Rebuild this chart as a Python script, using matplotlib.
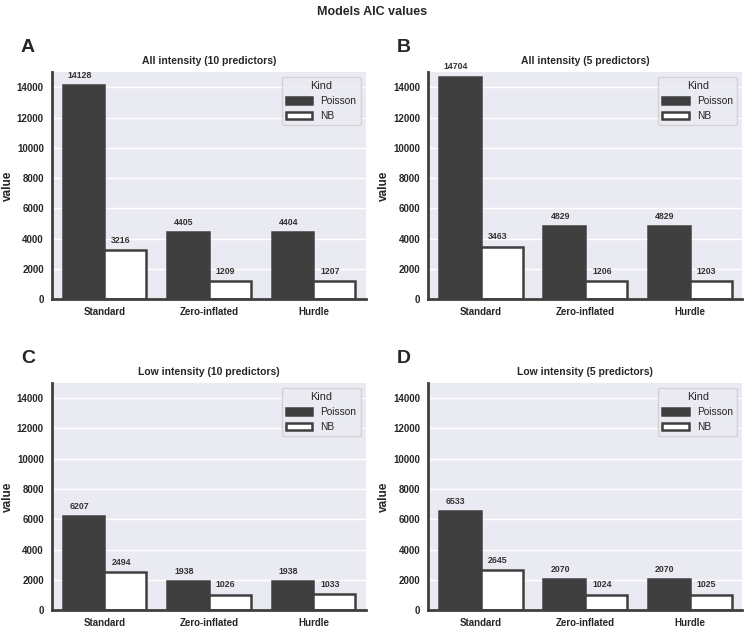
import matplotlib
matplotlib.use("Agg")
import matplotlib.pyplot as plt
import seaborn as sns
import numpy as np

models = ["Standard", "Zero-inflated", "Hurdle"]
kinds = ["Poisson", "NB"]
titles = ["All intensity (10 predictors)", "All intensity (5 predictors)",
          "Low intensity (10 predictors)", "Low intensity (5 predictors)"]
letters = ["A", "B", "C", "D"]

poisson_aic = [
    [14128, 4405, 4404],
    [14704, 4829, 4829],
    [6207, 1938, 1938],
    [6533, 2070, 2070],
]
nb_aic = [
    [3216, 1209, 1207],
    [3463, 1206, 1203],
    [2494, 1026, 1033],
    [2645, 1024, 1025],
]

sns.set_theme(style="darkgrid")
plt.rcParams["font.family"] = ["Liberation Sans", "DejaVu Sans"]

dark = "#3f3f3f"
fig, axes = plt.subplots(2, 2, figsize=(7.45, 6.27), dpi=100)
fig.subplots_adjust(left=0.07, right=0.996, top=0.885, bottom=0.027,
                    wspace=0.2, hspace=0.37)

x = np.arange(len(models))
w = 0.4
for i, ax in enumerate(axes.flat):
    b1 = ax.bar(x - w / 2, poisson_aic[i], w, color=dark, edgecolor=dark,
                linewidth=1.8, label=kinds[0])
    b2 = ax.bar(x + w / 2, nb_aic[i], w, color="white", edgecolor=dark,
                linewidth=1.8, label=kinds[1])
    for bars in (b1, b2):
        for p in bars:
            h = p.get_height()
            ax.annotate(f"{int(h)}", (p.get_x() + p.get_width() / 2 - 0.04, h),
                        xytext=(0, 7), textcoords="offset points",
                        ha="center", va="center", fontsize=6.3,
                        fontweight="bold", color="#333333")
    ax.set_xlim(-0.5, 2.5)
    ax.set_ylim(0, 15000)
    ax.set_yticks(np.arange(0, 15000, 2000))
    ax.xaxis.grid(False)
    ax.set_xticks(x)
    ax.set_xticklabels(models, fontsize=7, fontweight="bold")
    for lab in ax.get_yticklabels():
        lab.set_fontsize(7)
        lab.set_fontweight("bold")
    ax.tick_params(axis="both", length=0, pad=6)
    ax.set_ylabel("value", fontsize=8.5, fontweight="bold", labelpad=2)
    ax.set_title(titles[i], fontsize=7.5, fontweight="bold", pad=6)
    for side in ("top", "right"):
        ax.spines[side].set_visible(False)
    for side in ("left", "bottom"):
        ax.spines[side].set_color(dark)
        ax.spines[side].set_linewidth(2)
    ax.legend(title="Kind", loc="upper right", fontsize=7.3,
              title_fontsize=7.8, handlelength=2.6)
    ax.text(-0.1, 1.11, letters[i], transform=ax.transAxes, fontsize=14,
            fontweight="bold", ha="left", va="center")

fig.suptitle("Models AIC values", fontsize=9, fontweight="bold", y=0.99)
fig.savefig("out.png", dpi=100)
